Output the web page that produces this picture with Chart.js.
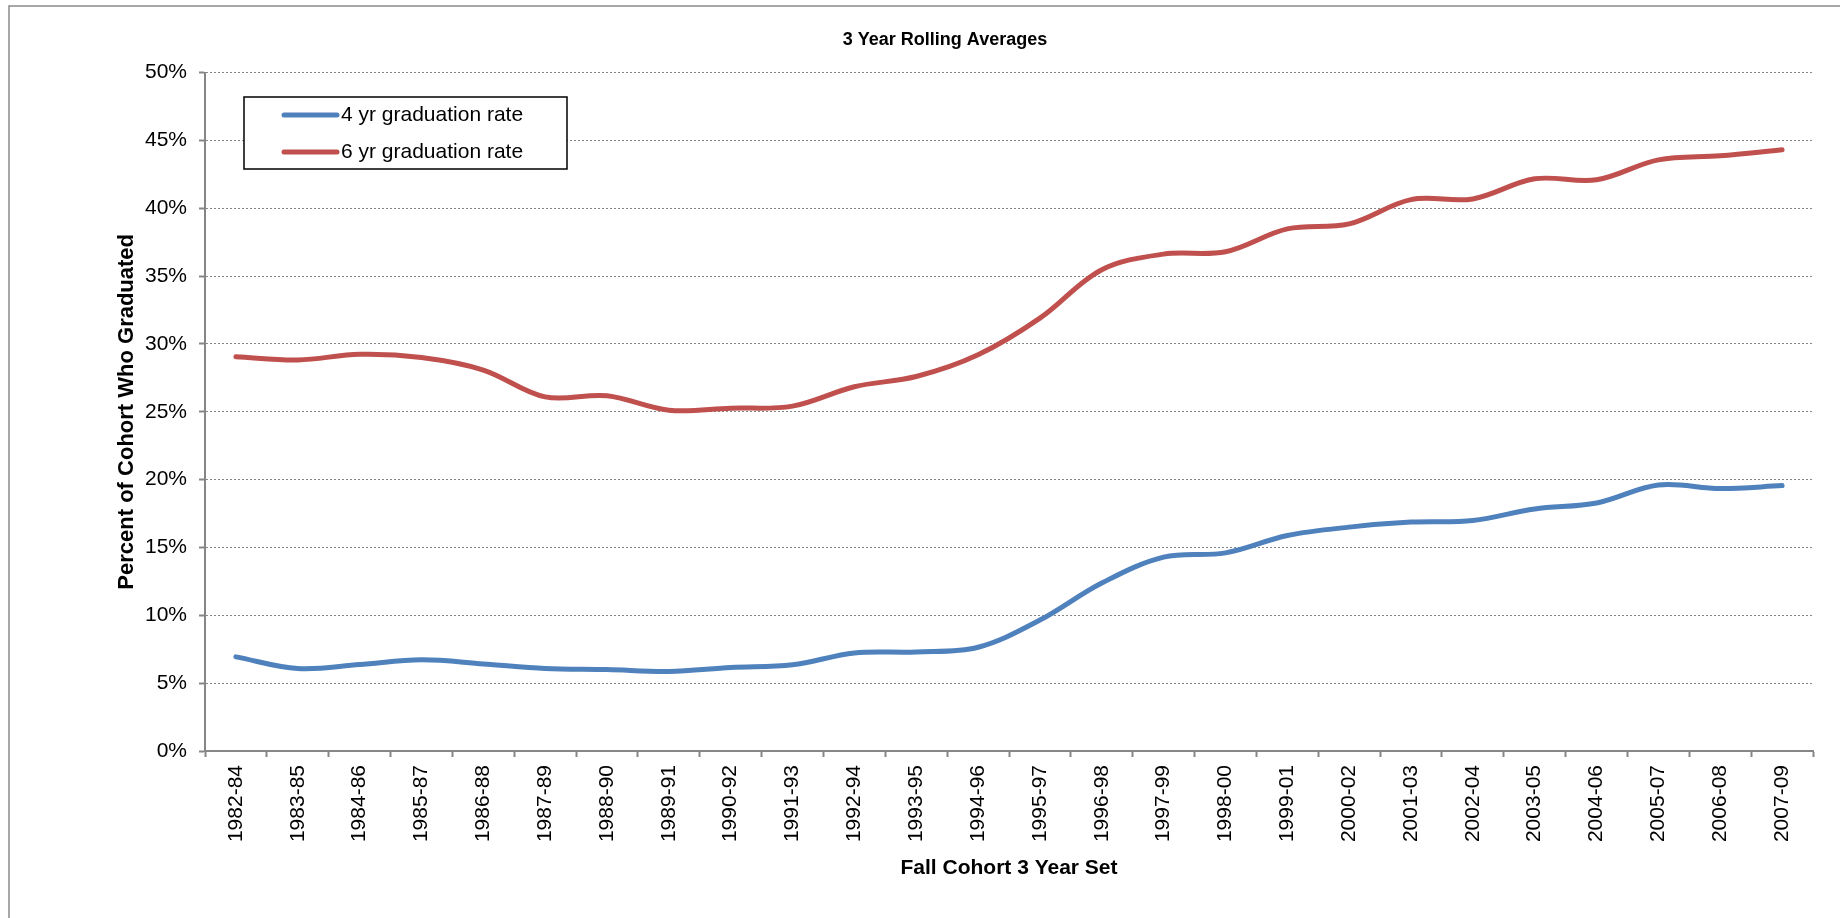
<!DOCTYPE html>
<html>
<head>
<meta charset="utf-8">
<script src="https://cdn.jsdelivr.net/npm/chart.js@4.4.1/dist/chart.umd.min.js"></script>
<style>
  body { margin: 0; background: #fff; }
  canvas { display: block; }
</style>
</head>
<body>
<canvas id="rolling-avg" width="1840" height="918"></canvas>
<script>
const cohortSets = ['1982-84', '1983-85', '1984-86', '1985-87', '1986-88', '1987-89', '1988-90',
  '1989-91', '1990-92', '1991-93', '1992-94', '1993-95', '1994-96', '1995-97', '1996-98',
  '1997-99', '1998-00', '1999-01', '2000-02', '2001-03', '2002-04', '2003-05', '2004-06',
  '2005-07', '2006-08', '2007-09'];

// percent of cohort
const fourYrRate = [6.94, 6.08, 6.37, 6.72, 6.42, 6.08, 6.0, 5.86, 6.15, 6.35, 7.23, 7.3, 7.65,
  9.65, 12.38, 14.29, 14.6, 15.88, 16.5, 16.87, 16.99, 17.84, 18.28, 19.6, 19.34, 19.56];
const sixYrRate = [29.06, 28.82, 29.24, 29.0, 28.08, 26.1, 26.18, 25.12, 25.27, 25.42, 26.85, 27.6, 29.2,
  31.9, 35.47, 36.62, 36.8, 38.48, 38.85, 40.64, 40.69, 42.17, 42.1, 43.57, 43.87, 44.31];

const yTicks = { min: 0, max: 50, step: 5 };

const fontFamily = "'Liberation Sans', Arial, sans-serif";
const axisGray = '#868686';

// gray frame round the whole chart object
const outerFrame = {
  id: 'outerFrame',
  beforeDraw(chart) {
    const ctx = chart.ctx;
    ctx.save();
    ctx.strokeStyle = '#8a8a8a';
    ctx.lineWidth = 1.5;
    ctx.strokeRect(9, 6, chart.width + 20, chart.height + 20);
    ctx.restore();
  }
};

// legend box sits inside the plot, top left
const boxLegend = {
  id: 'boxLegend',
  afterDraw(chart) {
    const ctx = chart.ctx;
    const box = { x: 244, y: 97, w: 323, h: 72 };
    ctx.save();
    ctx.fillStyle = '#fff';
    ctx.fillRect(box.x, box.y, box.w, box.h);
    ctx.strokeStyle = '#000';
    ctx.lineWidth = 1.5;
    ctx.strokeRect(box.x, box.y, box.w, box.h);
    ctx.font = '21px ' + fontFamily;
    ctx.textBaseline = 'middle';
    ctx.lineCap = 'round';
    chart.data.datasets.forEach((ds, i) => {
      const y = 115 + i * 37;
      ctx.strokeStyle = ds.borderColor;
      ctx.lineWidth = 5;
      ctx.beginPath();
      ctx.moveTo(284, y);
      ctx.lineTo(337, y);
      ctx.stroke();
      ctx.fillStyle = '#000';
      ctx.fillText(ds.label, 341, y);
    });
    ctx.restore();
  }
};

new Chart(document.getElementById('rolling-avg'), {
  type: 'line',
  data: {
    labels: cohortSets,
    datasets: [{
      label: '4 yr graduation rate',
      data: fourYrRate,
      borderColor: '#4F81BD',
      backgroundColor: '#4F81BD',
      borderWidth: 5,
      borderCapStyle: 'round',
      tension: 0.35,
      pointRadius: 0
    }, {
      label: '6 yr graduation rate',
      data: sixYrRate,
      borderColor: '#C0504D',
      backgroundColor: '#C0504D',
      borderWidth: 5,
      borderCapStyle: 'round',
      tension: 0.35,
      pointRadius: 0
    }]
  },
  options: {
    responsive: false,
    animation: false,
    layout: { padding: { left: 77, right: 27, top: 0, bottom: 0 } },
    plugins: {
      legend: { display: false },
      tooltip: { enabled: false },
      title: {
        display: true,
        text: '3 Year Rolling Averages',
        color: '#000',
        font: { family: fontFamily, size: 18, weight: 'bold' },
        padding: { top: 29, bottom: 22 }
      }
    },
    scales: {
      x: {
        offset: true,
        afterFit: s => { s.height = 167; },
        grid: {
          offset: true,
          drawOnChartArea: false,
          drawTicks: true,
          tickLength: 6,
          tickColor: axisGray,
          tickWidth: 2
        },
        border: { display: true, color: axisGray, width: 2 },
        ticks: {
          autoSkip: false,
          minRotation: 90,
          maxRotation: 90,
          padding: 8,
          color: '#000',
          font: { family: fontFamily, size: 21 }
        },
        title: {
          display: true,
          text: 'Fall Cohort 3 Year Set',
          color: '#000',
          font: { family: fontFamily, size: 21, weight: 'bold' },
          padding: { top: 0, bottom: 37 }
        }
      },
      y: {
        min: yTicks.min,
        max: yTicks.max,
        afterFit: s => { s.width = 128; },
        grid: {
          color: axisGray,
          lineWidth: 1,
          tickLength: 6,
          tickColor: axisGray,
          tickWidth: 2,
          tickBorderDash: []
        },
        border: { display: true, color: axisGray, width: 2, dash: [2, 2] },
        ticks: {
          stepSize: yTicks.step,
          padding: 12,
          color: '#000',
          font: { family: fontFamily, size: 21 },
          callback: v => v + '%'
        },
        title: {
          display: true,
          text: 'Percent of Cohort Who Graduated',
          color: '#000',
          font: { family: fontFamily, size: 22, weight: 'bold' },
          padding: { top: 37, bottom: 0 }
        }
      }
    }
  },
  plugins: [outerFrame, boxLegend]
});
</script>
</body>
</html>
